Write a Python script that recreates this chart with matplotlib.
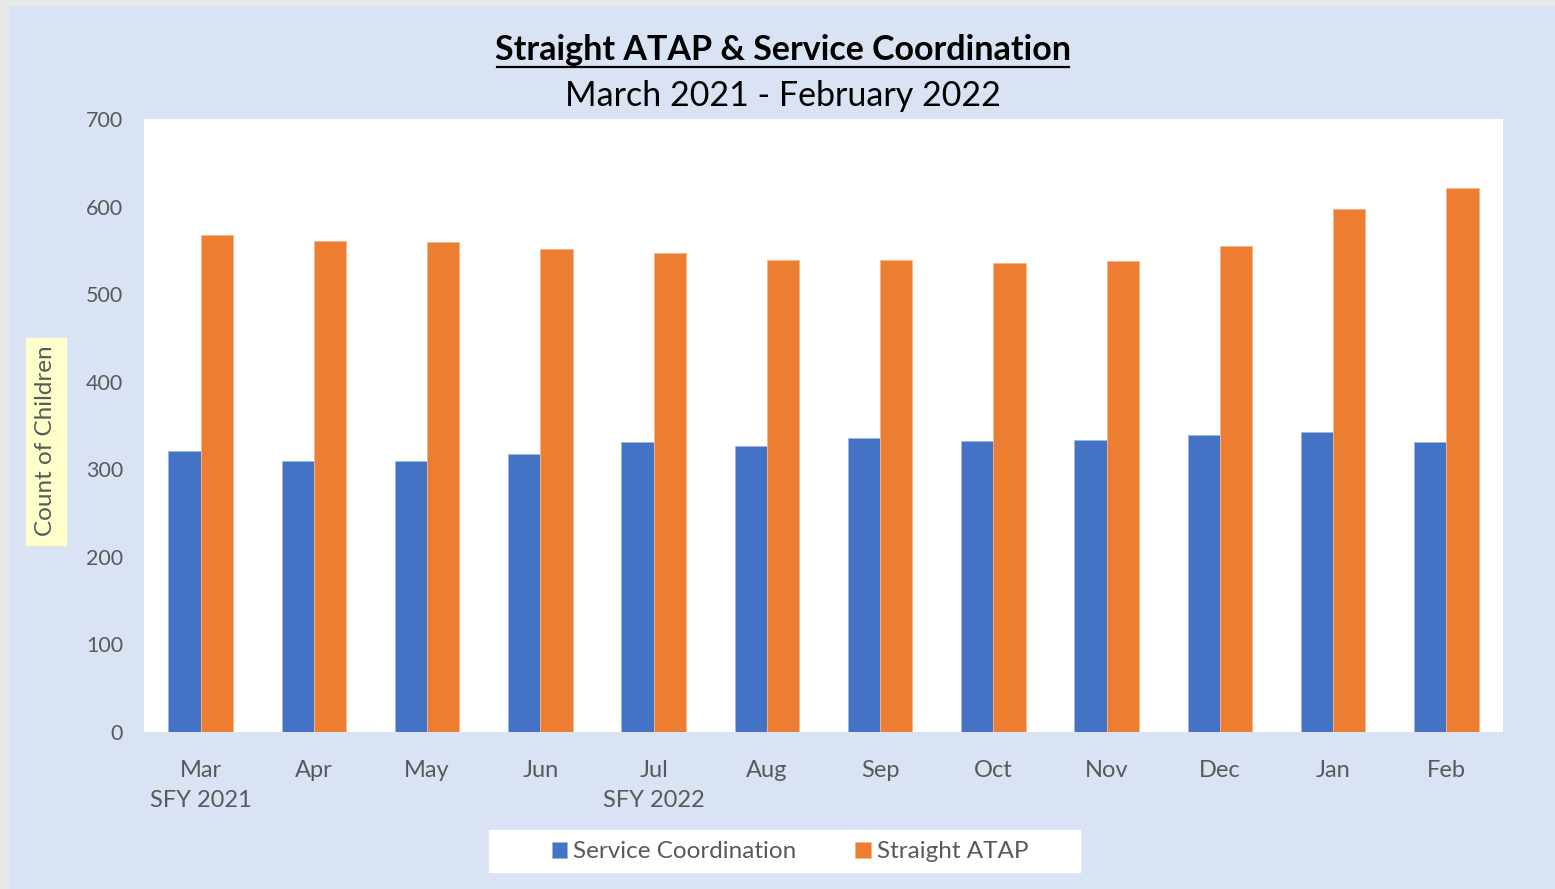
import matplotlib
matplotlib.use("Agg")
import matplotlib.pyplot as plt
from matplotlib.patches import Rectangle
from matplotlib.lines import Line2D
import numpy as np

# data
months = ["Mar\nSFY 2021", "Apr", "May", "Jun", "Jul\nSFY 2022", "Aug",
          "Sep", "Oct", "Nov", "Dec", "Jan", "Feb"]
service_coord = [321, 310, 310, 317, 331, 327, 336, 332, 333, 339, 343, 331]
straight_atap = [568, 561, 560, 552, 547, 539, 539, 536, 538, 555, 597, 621]
yticks = [0, 100, 200, 300, 400, 500, 600, 700]

BLUE = "#4472C4"
ORANGE = "#ED7D31"
PANEL = "#DAE3F3"
TXT = "#595959"
W, H = 1555, 889

plt.rcParams["font.family"] = ["Lato", "DejaVu Sans"]

fig = plt.figure(figsize=(W / 100, H / 100), dpi=100, facecolor=PANEL)
# faint strip left/top outside the slide panel
fig.patches.append(Rectangle((0, 0), 8 / W, 1, transform=fig.transFigure,
                             color="#e6e8ea", zorder=0))
fig.patches.append(Rectangle((0, 1 - 5 / H), 1, 5 / H, transform=fig.transFigure,
                             color="#e6e8ea", zorder=0))

ax = fig.add_axes([144 / W, 1 - 732 / H, (1503 - 144) / W, (732 - 119) / H])
ax.set_facecolor("white")

x = np.arange(len(months))
w = 0.285
ax.bar(x - w / 2, service_coord, w, color=BLUE, label="Service Coordination",
       edgecolor="#9fb6e0", linewidth=0.6)
ax.bar(x + w / 2, straight_atap, w, color=ORANGE, label="Straight ATAP",
       edgecolor="#f5b58a", linewidth=0.6)

ax.set_xlim(-0.5, len(months) - 0.5)
ax.set_ylim(0, 700)
ax.set_yticks(yticks)
ax.set_xticks(x)
ax.set_xticklabels(months, linespacing=1.55)
ax.tick_params(axis="both", length=0, colors=TXT)
ax.tick_params(axis="x", labelsize=17, pad=20)
ax.tick_params(axis="y", labelsize=15.5, pad=15)
for s in ax.spines.values():
    s.set_visible(False)

# titles
fig.text(783 / W, 1 - 50 / H, "Straight ATAP & Service Coordination",
         ha="center", va="center", fontsize=24.5, fontweight="bold")
title_line_y = 1 - 67 / H
fig.add_artist(Line2D([497 / W, 1069 / W], [title_line_y, title_line_y],
                      transform=fig.transFigure, color="black", lw=1.6))
fig.text(783 / W, 1 - 96 / H, "March 2021 - February 2022",
         ha="center", va="center", fontsize=24.5)

# y label in a yellow box
fig.patches.append(Rectangle((26 / W, 1 - 545 / H), 40 / W, 207 / H,
                             transform=fig.transFigure, color="#FFFFCC", zorder=1))
fig.text(46 / W, 1 - 441 / H, "Count of Children", rotation=90,
         ha="center", va="center", fontsize=17.5, color=TXT, zorder=2)

# legend on a white box
fig.patches.append(Rectangle((489 / W, 1 - 872 / H), 591 / W, 42 / H,
                             transform=fig.transFigure, color="white", zorder=1))
leg = fig.legend(loc="center", bbox_to_anchor=(790 / W, 1 - 852 / H),
                 ncol=2, frameon=False, fontsize=17.5, handlelength=0.65,
                 handleheight=0.65, handletextpad=0.25, columnspacing=2.4)
for t in leg.get_texts():
    t.set_color(TXT)

fig.savefig("out.png", dpi=100, facecolor=fig.get_facecolor())
